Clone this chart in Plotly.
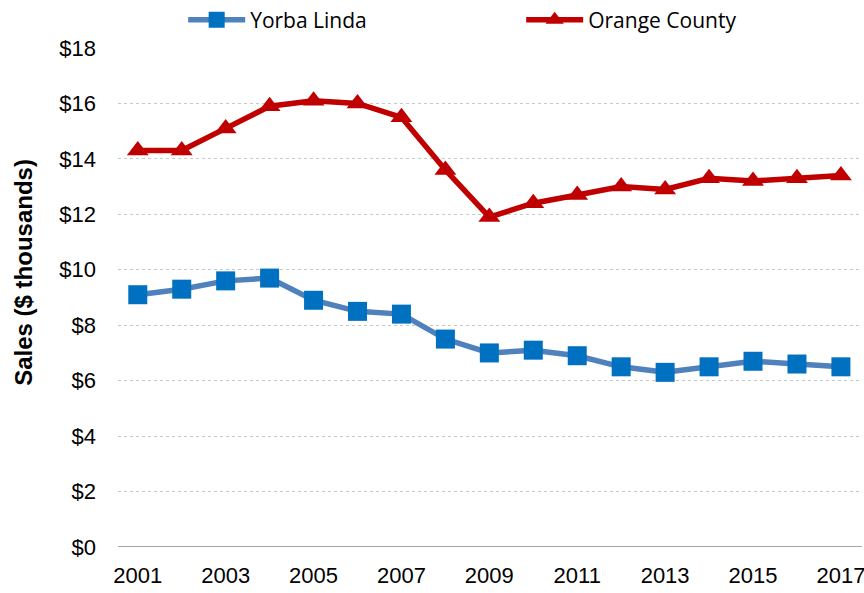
import plotly.graph_objects as go

years = list(range(2001, 2018))
yorba_linda = [9.1, 9.3, 9.6, 9.7, 8.9, 8.5, 8.4, 7.5, 7.0, 7.1, 6.9, 6.5, 6.3, 6.5, 6.7, 6.6, 6.5]
orange_county = [14.3, 14.3, 15.1, 15.9, 16.1, 16.0, 15.5, 13.6, 11.9, 12.4, 12.7, 13.0, 12.9, 13.3, 13.2, 13.3, 13.4]
y_ticks = list(range(0, 19, 2))
y_labels = [f"${v}" for v in y_ticks]
x_ticks = list(range(2001, 2018, 2))
y_title = "Sales ($ thousands)"

tick_font = dict(family="Liberation Sans, Arial, sans-serif", size=22, color="#000000")

fig = go.Figure()
fig.add_trace(go.Scatter(
    x=years, y=yorba_linda, name="Yorba Linda", mode="lines+markers",
    line=dict(color="#4F81BD", width=5.5),
    marker=dict(symbol="square", size=19, color="#0070C0"),
))
fig.add_trace(go.Scatter(
    x=years, y=orange_county, name="Orange County", mode="lines+markers",
    line=dict(color="#C00000", width=5.5),
    marker=dict(symbol="triangle-up", size=19, color="#C00000"),
))

fig.update_layout(
    width=864, height=593,
    margin=dict(l=118, r=2, t=48, b=46, autoexpand=False),
    paper_bgcolor="white", plot_bgcolor="white",
    showlegend=True,
    legend=dict(
        orientation="h", xref="container", yref="container",
        x=0.212, y=0.966, xanchor="left", yanchor="middle",
        font=dict(family="Open Sans, sans-serif", size=21, color="#000000"),
        entrywidth=266, entrywidthmode="pixels",
        itemwidth=57,
        bgcolor="rgba(0,0,0,0)",
    ),
    xaxis=dict(
        range=[2000.55, 2017.48], tickmode="array", tickvals=x_ticks,
        ticktext=[str(v) for v in x_ticks],
        showgrid=False, zeroline=False, showline=False,
        tickfont=tick_font, ticks="", ticklabelstandoff=13,
        ticklabeloverflow="allow",
    ),
    yaxis=dict(
        range=[0, 18], tickmode="array", tickvals=y_ticks, ticktext=y_labels,
        showgrid=True, gridcolor="#C8C8C8", griddash="dot", gridwidth=1,
        zeroline=False, showline=False,
        tickfont=tick_font, ticks="", ticklabelstandoff=21,
    ),
)

# vertical axis title, placed left of the tick labels
fig.add_annotation(
    text=f"<b>{y_title}</b>", textangle=-90,
    xref="paper", yref="paper", x=-0.128, y=0.551,
    xanchor="center", yanchor="middle", showarrow=False,
    font=dict(family="Liberation Sans, Arial, sans-serif", size=24, color="#000000"),
)

# solid baseline along $0
fig.add_shape(type="line", xref="paper", yref="y", x0=0, x1=1, y0=0, y1=0,
              line=dict(color="#A6A6A6", width=2), layer="below")

fig.write_html("out.html")
